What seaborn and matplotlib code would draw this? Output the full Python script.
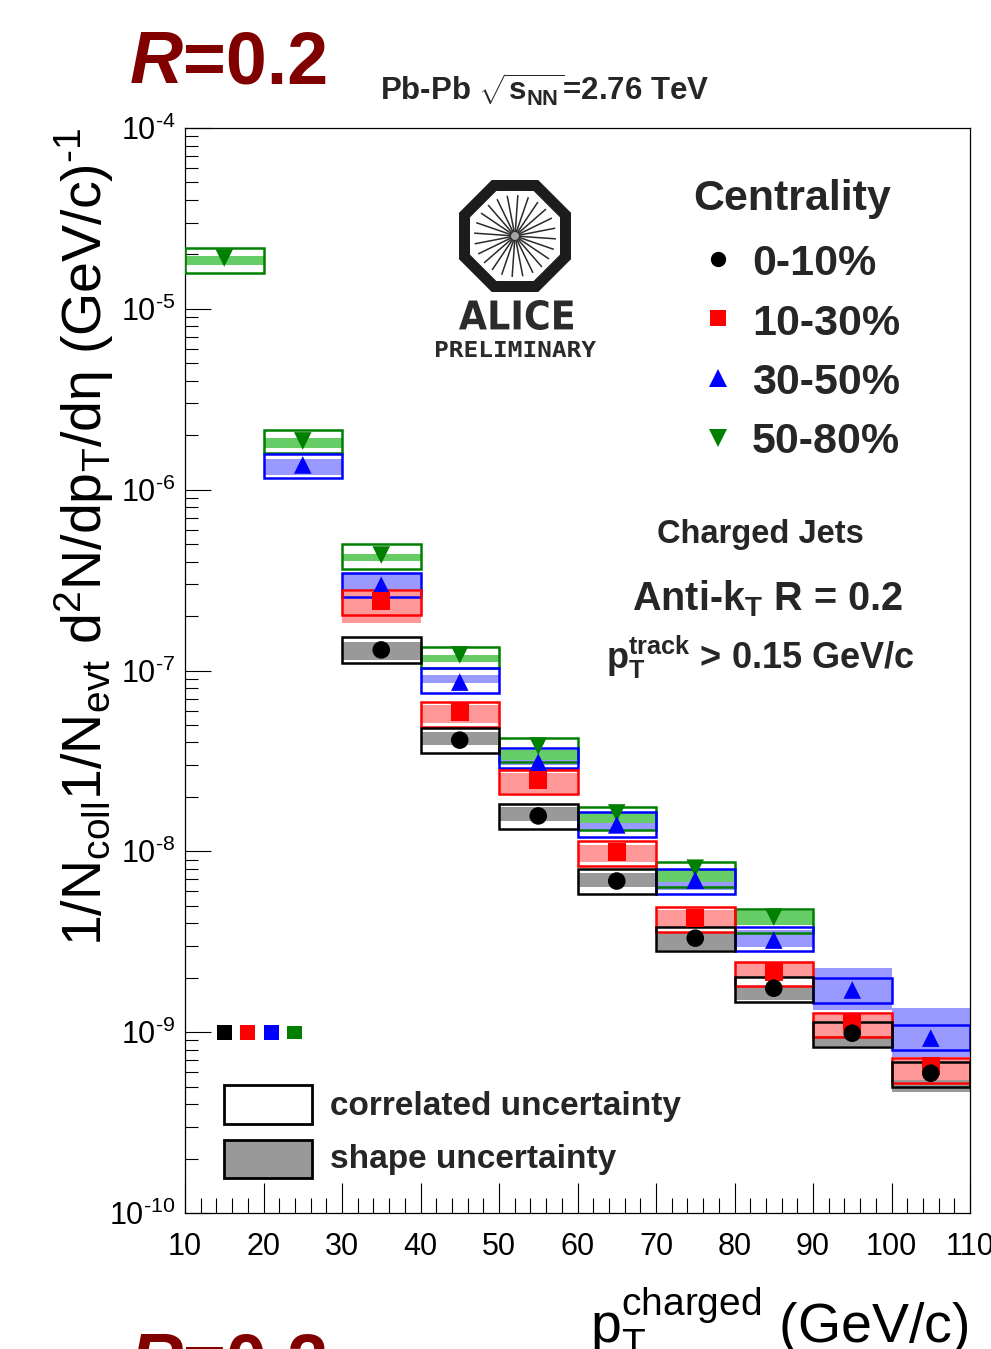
import numpy as np
import pandas as pd
import matplotlib
matplotlib.use("Agg")
import matplotlib.pyplot as plt
import seaborn as sns
from matplotlib.lines import Line2D
from matplotlib.patches import Rectangle, Polygon, PathPatch, Circle
from matplotlib.textpath import TextPath
from matplotlib.font_manager import FontProperties
from matplotlib.transforms import Affine2D
from matplotlib.ticker import MultipleLocator, LogLocator, NullFormatter, FuncFormatter

# ---------------- data ----------------
bin_width = 10.0
centralities = ["0-10%", "10-30%", "30-50%", "50-80%"]

pt_0_10 = [35, 45, 55, 65, 75, 85, 95, 105]
y_0_10 = [1.30e-7, 4.12e-8, 1.57e-8, 6.85e-9, 3.31e-9, 1.75e-9, 9.87e-10, 5.93e-10]
corr_lo_0_10 = [1.10e-7, 3.49e-8, 1.33e-8, 5.80e-9, 2.81e-9, 1.47e-9, 8.26e-10, 4.97e-10]
corr_hi_0_10 = [1.53e-7, 4.80e-8, 1.82e-8, 7.98e-9, 3.81e-9, 2.01e-9, 1.14e-9, 6.82e-10]
shape_lo_0_10 = [1.14e-7, 3.86e-8, 1.47e-8, 6.34e-9, 2.84e-9, 1.50e-9, 8.40e-10, 4.66e-10]
shape_hi_0_10 = [1.44e-7, 4.56e-8, 1.75e-8, 7.57e-9, 3.53e-9, 1.77e-9, 9.50e-10, 5.43e-10]

pt_10_30 = [35, 45, 55, 65, 75, 85, 95, 105]
y_10_30 = [2.42e-7, 5.89e-8, 2.48e-8, 9.90e-9, 4.28e-9, 2.15e-9, 1.14e-9, 6.49e-10]
corr_lo_10_30 = [2.02e-7, 4.86e-8, 2.07e-8, 8.27e-9, 3.57e-9, 1.80e-9, 9.38e-10, 5.22e-10]
corr_hi_10_30 = [2.79e-7, 6.68e-8, 2.81e-8, 1.14e-8, 4.91e-9, 2.44e-9, 1.27e-9, 7.18e-10]
shape_lo_10_30 = [1.83e-7, 5.12e-8, 2.10e-8, 8.71e-9, 3.76e-9, 2.01e-9, 9.38e-10, 5.43e-10]
shape_hi_10_30 = [2.72e-7, 6.44e-8, 2.71e-8, 1.08e-8, 4.73e-9, 2.41e-9, 1.24e-9, 7.00e-10]

pt_30_50 = [25, 35, 45, 55, 65, 75, 85, 95, 105]
y_30_50 = [1.37e-6, 2.96e-7, 8.63e-8, 3.11e-8, 1.40e-8, 6.93e-9, 3.23e-9, 1.71e-9, 9.27e-10]
corr_lo_30_50 = [1.16e-6, 2.55e-7, 7.50e-8, 2.88e-8, 1.20e-8, 5.80e-9, 2.81e-9, 1.45e-9, 7.95e-10]
corr_hi_30_50 = [1.57e-6, 3.46e-7, 1.03e-7, 3.72e-8, 1.65e-8, 7.98e-9, 3.81e-9, 1.99e-9, 1.09e-9]
shape_lo_30_50 = [1.20e-6, 2.79e-7, 8.53e-8, 3.00e-8, 1.31e-8, 6.10e-9, 2.95e-9, 1.32e-9, 7.27e-10]
shape_hi_30_50 = [1.48e-6, 3.46e-7, 9.44e-8, 3.54e-8, 1.59e-8, 7.57e-9, 3.66e-9, 2.26e-9, 1.36e-9]

pt_50_80 = [15, 25, 35, 45, 55, 65, 75, 85]
y_50_80 = [1.91e-5, 1.86e-6, 4.35e-7, 1.22e-7, 3.82e-8, 1.63e-8, 8.07e-9, 4.33e-9]
corr_lo_50_80 = [1.58e-5, 1.59e-6, 3.64e-7, 1.03e-7, 3.11e-8, 1.31e-8, 6.34e-9, 3.53e-9]
corr_hi_50_80 = [2.17e-5, 2.14e-6, 5.00e-7, 1.35e-7, 4.23e-8, 1.75e-8, 8.71e-9, 4.79e-9]
shape_lo_50_80 = [1.75e-5, 1.70e-6, 4.03e-7, 1.11e-7, 3.19e-8, 1.43e-8, 6.76e-9, 3.91e-9]
shape_hi_50_80 = [1.96e-5, 1.93e-6, 4.41e-7, 1.22e-7, 3.63e-8, 1.63e-8, 7.87e-9, 4.67e-9]

# normalisation uncertainty boxes (drawn at 1e-9)
norm_ref = 1e-9
norm_x = [15, 18, 21, 24]
norm_unc = [0.10, 0.10, 0.10, 0.08]

x_ticks = [10, 20, 30, 40, 50, 60, 70, 80, 90, 100, 110]

# ---------------- style ----------------
sns.set_theme(style="ticks")
plt.rcParams["font.family"] = ["Liberation Sans", "DejaVu Sans"]
plt.rcParams["mathtext.fontset"] = "custom"
plt.rcParams["mathtext.rm"] = "Liberation Sans"
plt.rcParams["mathtext.it"] = "Liberation Sans:italic"
plt.rcParams["mathtext.bf"] = "Liberation Sans:bold"
plt.rcParams["mathtext.sf"] = "Liberation Sans"

colors = {"0-10%": "#000000", "10-30%": "#ff0000", "30-50%": "#0000ff", "50-80%": "#008000"}
fills = {"0-10%": (0, 0, 0, 0.4), "10-30%": (1, 0, 0, 0.4),
         "30-50%": (0, 0, 1, 0.4), "50-80%": "#66cc66"}
markers = {"0-10%": "o", "10-30%": "s", "30-50%": "^", "50-80%": "v"}

series = {
    "0-10%": (pt_0_10, y_0_10, corr_lo_0_10, corr_hi_0_10, shape_lo_0_10, shape_hi_0_10),
    "10-30%": (pt_10_30, y_10_30, corr_lo_10_30, corr_hi_10_30, shape_lo_10_30, shape_hi_10_30),
    "30-50%": (pt_30_50, y_30_50, corr_lo_30_50, corr_hi_30_50, shape_lo_30_50, shape_hi_30_50),
    "50-80%": (pt_50_80, y_50_80, corr_lo_50_80, corr_hi_50_80, shape_lo_50_80, shape_hi_50_80),
}

W, H = 991, 1349
fig = plt.figure(figsize=(W / 100, H / 100), dpi=100, facecolor="white")


def fx(px):
    return px / W


def fy(py):
    return 1 - py / H


ax = fig.add_axes([fx(185), fy(1213), fx(970) - fx(185), fy(128) - fy(1213)])
ax.set_facecolor("white")
ax.set_yscale("log")

draw_order = ["50-80%", "30-50%", "10-30%", "0-10%"]

# shape uncertainty (filled); green drawn last so it stays bright
for c in centralities:
    pt, y, clo, chi, slo, shi = series[c]
    ax.bar(pt, np.array(shi) - np.array(slo), bottom=slo, width=bin_width,
           color=fills[c], linewidth=0, zorder=2)
# correlated uncertainty (outline)
for c in draw_order:
    pt, y, clo, chi, slo, shi = series[c]
    ax.bar(pt, np.array(chi) - np.array(clo), bottom=clo, width=bin_width,
           fill=False, edgecolor=colors[c], linewidth=1.8, zorder=3)

# normalisation boxes
nu = np.array(norm_unc)
ax.bar(norm_x, norm_ref * (2 * nu), bottom=norm_ref * (1 - nu), width=1.9,
       color=[colors[c] for c in centralities], linewidth=0, zorder=3)

# data points via seaborn
frames = []
for c in draw_order:
    pt, y = series[c][0], series[c][1]
    frames.append(pd.DataFrame({"pt": pt, "value": y, "centrality": c}))
df = pd.concat(frames, ignore_index=True)
sns.scatterplot(data=df, x="pt", y="value", hue="centrality", style="centrality",
                palette=colors, markers=markers, s=160, linewidth=0,
                legend=False, ax=ax, zorder=5)

ax.set_xlim(10, 110)
ax.set_ylim(1e-10, 1e-4)
ax.set_xticks(x_ticks)
ax.xaxis.set_minor_locator(MultipleLocator(2))
ax.yaxis.set_major_locator(LogLocator(base=10, numticks=20))
ax.yaxis.set_minor_locator(LogLocator(base=10, subs=np.arange(2, 10), numticks=100))
ax.yaxis.set_minor_formatter(NullFormatter())
ax.yaxis.set_major_formatter(FuncFormatter(
    lambda v, p: r"10$^{\text{%d}}$" % int(round(np.log10(v)))))
ax.tick_params(which="both", direction="in", top=False, right=False,
               width=0.8, color="black", labelcolor="black")
ax.tick_params(axis="y", which="major", length=19, labelsize=22, pad=7)
ax.tick_params(axis="y", which="minor", length=9.5)
ax.tick_params(axis="x", which="major", length=21.5, labelsize=22, pad=14)
ax.tick_params(axis="x", which="minor", length=11)
for sp in ax.spines.values():
    sp.set_color("black")
    sp.set_linewidth(0.9)

ax.set_ylabel(r"1/N$_{\mathrm{coll}}$1/N$_{\mathrm{evt}}$ d$^{2}$N/dp$_{\mathrm{T}}$/dη (GeV/c)$^{\text{-1}}$",
              fontsize=40, loc="top", color="black")
ax.yaxis.set_label_coords(-0.088, 1.0)
ax.set_xlabel(r"p$_{\mathrm{T}}^{\mathrm{charged}}$ (GeV/c)", fontsize=40, loc="right", color="black")
ax.xaxis.set_label_coords(0.9975, -0.066)

# ---------------- texts ----------------
t_r = fig.text(fx(130), fy(83), "R", fontsize=53, weight="bold", style="italic",
               color="#800000", va="baseline")
ax.annotate("=0.2", xy=(1, 0), xycoords=t_r, fontsize=53, weight="bold",
            color="#800000", va="bottom", ha="left", annotation_clip=False)
t_r2 = fig.text(fx(130), fy(1385), "R", fontsize=53, weight="bold", style="italic",
                color="#800000", va="baseline")
ax.annotate("=0.2", xy=(1, 0), xycoords=t_r2, fontsize=53, weight="bold",
            color="#800000", va="bottom", ha="left", annotation_clip=False)

fig.text(fx(380), fy(101), r"Pb-Pb $\sqrt{\mathbf{s}_{\mathbf{NN}}}$=2.76 TeV",
         fontsize=22.5, weight="bold", va="baseline", ha="left")

fig.text(fx(760), fy(543), "Charged Jets", fontsize=23.5, weight="bold",
         ha="center", va="baseline")
fig.text(fx(768), fy(610), r"Anti-k$_{\mathbf{T}}$ R = 0.2", fontsize=28.5, weight="bold",
         ha="center", va="baseline")
fig.text(fx(760), fy(669), r"p$_{\mathbf{T}}^{\mathbf{track}}$ > 0.15 GeV/c", fontsize=26,
         weight="bold", ha="center", va="baseline")

# centrality legend
fig.text(fx(693), fy(210), "Centrality", fontsize=31, weight="bold", va="baseline")
leg_marker_y = [259, 318, 378, 438]
leg_text_y = [275, 335, 394, 453]
leg_ms = {"o": 11, "s": 11, "^": 12.5, "v": 12.5}
for c, my, ty in zip(centralities, leg_marker_y, leg_text_y):
    fig.add_artist(Line2D([fx(718)], [fy(my)], marker=markers[c], color=colors[c],
                          markersize=leg_ms[markers[c]], linestyle="none",
                          markeredgewidth=0, transform=fig.transFigure))
    fig.text(fx(752), fy(ty), c, fontsize=31, weight="bold", va="baseline")

# uncertainty legend
fig.add_artist(Rectangle((fx(224), fy(1124)), fx(312) - fx(224), fy(1085) - fy(1124),
                         transform=fig.transFigure, facecolor="white", edgecolor="black",
                         linewidth=2, zorder=6))
fig.add_artist(Rectangle((fx(224), fy(1178)), fx(312) - fx(224), fy(1140) - fy(1178),
                         transform=fig.transFigure, facecolor="#999999", edgecolor="black",
                         linewidth=2, zorder=6))
fig.text(fx(330), fy(1115), "correlated uncertainty", fontsize=24, weight="bold", va="baseline")
fig.text(fx(330), fy(1168), "shape uncertainty", fontsize=24, weight="bold", va="baseline")

# ---------------- ALICE logo ----------------
lax = fig.add_axes([fx(425), fy(365), fx(605) - fx(425), fy(172) - fy(365)])
lax.set_xlim(425, 605)
lax.set_ylim(365, 172)
lax.axis("off")
cx, cy = 515, 236
ang = np.deg2rad(22.5 + 45 * np.arange(8))
r_out = 56 / np.cos(np.deg2rad(22.5))
r_in = 45 / np.cos(np.deg2rad(22.5))
lax.add_patch(Polygon(np.c_[cx + r_out * np.cos(ang), cy + r_out * np.sin(ang)],
                      closed=True, facecolor="#1c1c1c", edgecolor="none"))
lax.add_patch(Polygon(np.c_[cx + r_in * np.cos(ang), cy + r_in * np.sin(ang)],
                      closed=True, facecolor="white", edgecolor="none"))
for a in np.deg2rad(np.arange(0, 360, 360 / 24) + 4):
    lax.plot([cx + 4 * np.cos(a), cx + 41 * np.cos(a)],
             [cy + 4 * np.sin(a), cy + 41 * np.sin(a)], color="#2a2a2a", lw=1.1,
             solid_capstyle="butt")
lax.add_patch(Circle((cx, cy), 5, facecolor="#9a9a9a", edgecolor="none", alpha=0.9))


def fit_text(axx, s, x0, x1, y0, y1, prop, color):
    tp = TextPath((0, 0), s, size=100, prop=prop)
    bb = tp.get_extents()
    sx = (x1 - x0) / bb.width
    sy = (y1 - y0) / bb.height
    tr = Affine2D().translate(-bb.x0, -bb.y0).scale(sx, -sy).translate(x0, y1)
    path = tr.transform_path(tp)
    axx.add_patch(PathPatch(path, facecolor=color, edgecolor="none"))


fit_text(lax, "ALICE", 459, 573, 300, 330, FontProperties(family="DejaVu Sans", weight="bold"), "#2b2b2b")
fit_text(lax, "PRELIMINARY", 436, 596, 341, 357,
         FontProperties(family="DejaVu Sans Mono", weight="bold"), "#2b2b2b")

fig.savefig("out.png", dpi=100, facecolor="white")
